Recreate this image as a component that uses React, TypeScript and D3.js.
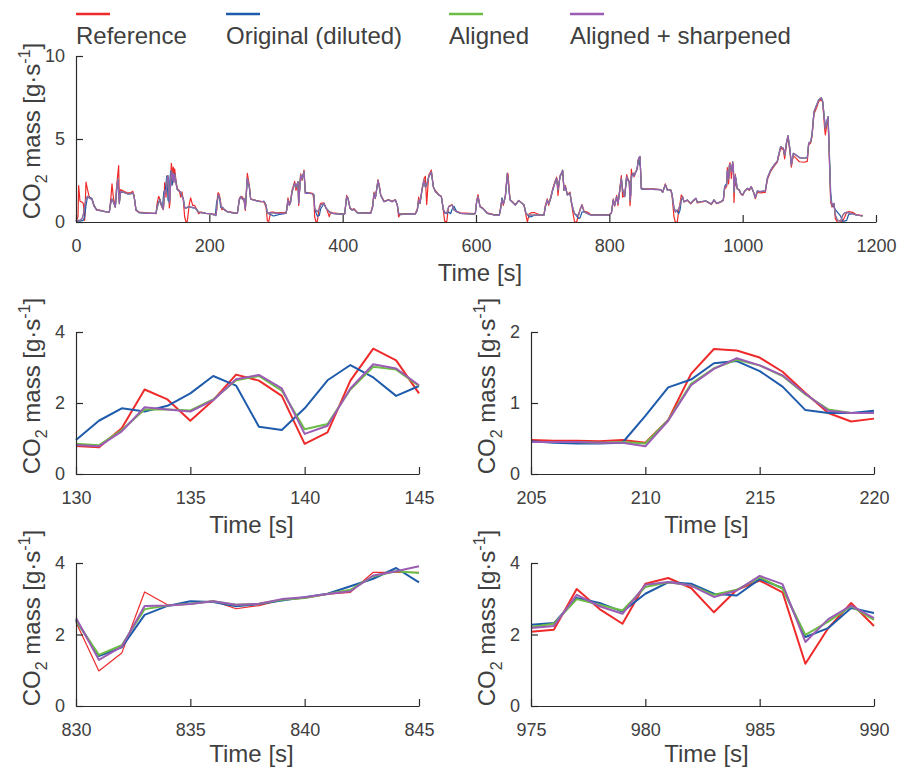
import { useEffect, useRef } from "react";
import * as d3 from "d3";

const seriesNames = ["Reference", "Original (diluted)", "Aligned", "Aligned + sharpened"];
const seriesColors = ["#ee2a2a", "#1f5bab", "#6cbd45", "#9b5cb4"];

// full drive, seconds
const topTime = [
  0, 3, 4, 6, 9, 11, 13, 15, 17, 20,
  24, 27, 31, 37, 44, 50, 52, 54, 56, 59,
  61, 63, 64, 65, 67, 72, 77, 82, 85, 87,
  90, 95, 107, 120, 122, 124, 126, 128, 130, 131,
  132, 133, 134, 135, 136, 137, 138, 139, 140, 141,
  142, 143, 144, 145, 146, 147, 148, 150, 152, 155,
  157, 159, 161, 163, 165, 167, 170, 172, 175, 178,
  181, 184, 188, 195, 200, 205, 206, 207, 208, 209,
  210, 211, 212, 213, 214, 215, 216, 217, 218, 219,
  220, 223, 227, 235, 242, 245, 247, 250, 252, 254,
  257, 260, 262, 270, 277, 282, 285, 287, 289, 292,
  296, 300, 305, 315, 316, 318, 320, 322, 324, 328,
  330, 333, 334, 337, 339, 342, 344, 350, 355, 357,
  358, 360, 362, 365, 367, 372, 375, 378, 380, 382,
  385, 395, 403, 406, 408, 411, 414, 417, 422, 442,
  445, 447, 449, 453, 455, 457, 462, 469, 474, 479,
  482, 484, 487, 495, 509, 512, 514, 516, 519, 522,
  524, 526, 529, 533, 536, 539, 544, 548, 551, 553,
  556, 559, 562, 564, 567, 571, 577, 597, 599, 601,
  603, 606, 610, 617, 627, 635, 637, 639, 641, 644,
  647, 648, 651, 654, 659, 664, 669, 672, 675, 677,
  680, 683, 688, 695, 702, 704, 707, 709, 712, 715,
  718, 721, 723, 726, 730, 732, 734, 737, 741, 743,
  746, 748, 751, 754, 756, 759, 762, 767, 772, 800,
  803, 806, 808, 811, 813, 816, 818, 820, 823, 826,
  828, 830, 831, 832, 833, 834, 835, 836, 837, 838,
  839, 840, 841, 842, 843, 844, 845, 846, 848, 855,
  865, 877, 880, 884, 887, 892, 894, 897, 899, 902,
  904, 906, 908, 910, 912, 917, 922, 927, 930, 932,
  937, 945, 953, 957, 961, 967, 971, 973, 975, 976,
  977, 978, 979, 980, 981, 982, 983, 984, 985, 986,
  987, 988, 989, 990, 992, 995, 997, 1000, 1003, 1007,
  1010, 1013, 1017, 1019, 1022, 1026, 1034, 1037, 1042, 1047,
  1052, 1054, 1057, 1061, 1063, 1066, 1068, 1071, 1073, 1076,
  1080, 1085, 1092, 1097, 1099, 1102, 1104, 1107, 1111, 1114,
  1118, 1120, 1123, 1124, 1128, 1129, 1132, 1134, 1137, 1139,
  1142, 1147, 1150, 1153, 1156, 1159, 1165, 1170, 1180,
];

const topReference = [
  0.05, 0.3, 2.2, 1.25, 1.2, 1.1, 0.1, 2.4, 2.0, 1.5,
  1.4, 1.0, 0.75, 0.7, 0.62, 0.6, 1.3, 2.3, 1.5, 0.9,
  2.2, 3.0, 3.4, 1.2, 1.95, 1.85, 1.75, 1.75, 1.85, 1.6,
  0.7, 0.6, 0.55, 0.5, 1.2, 1.55, 1.35, 1.0, 0.79, 0.75,
  1.29, 2.38, 2.1, 1.5, 2.08, 2.8, 2.63, 2.2, 0.85, 1.17,
  2.63, 3.53, 3.2, 2.27, 3.3, 2.6, 3.2, 2.5, 2.0, 1.9,
  1.5, 1.8, 1.3, 0.3, 0.0, 0.05, 1.1, 1.45, 1.0, 1.0,
  0.75, 0.5, 0.6, 0.52, 0.5, 0.48, 0.47, 0.47, 0.46, 0.48,
  0.44, 0.76, 1.41, 1.76, 1.74, 1.64, 1.44, 1.14, 0.86, 0.74,
  0.78, 0.75, 0.62, 0.58, 0.52, 1.4, 1.55, 1.5, 1.3, 0.7,
  2.93, 2.2, 1.4, 1.3, 1.25, 1.2, 0.9, 0.1, 0.0, 0.6,
  0.6, 0.55, 0.56, 0.56, 0.75, 1.45, 1.1, 1.3, 1.9, 2.45,
  1.9, 2.4, 1.0, 2.9, 2.5, 3.13, 1.75, 1.75, 1.72, 1.3,
  0.3, 0.0, 0.05, 0.9, 1.12, 1.15, 0.85, 0.55, 0.32, 0.6,
  0.55, 0.5, 0.5, 1.6, 1.45, 0.85, 0.75, 0.8, 0.58, 0.55,
  1.0, 1.8, 1.4, 2.55, 2.2, 1.65, 1.25, 1.35, 1.25, 1.35,
  1.0, 0.3, 0.5, 0.5, 0.52, 0.8, 1.5, 1.1, 2.0, 2.6,
  2.75, 1.05, 2.8, 3.13, 2.1, 1.9, 1.65, 1.55, 0.7, 0.05,
  0.0, 0.95, 1.0, 1.05, 0.75, 0.65, 0.55, 0.5, 0.55, 1.3,
  1.65, 0.95, 0.85, 0.55, 0.45, 0.45, 0.9, 1.4, 1.0, 1.6,
  2.95, 2.9, 1.35, 1.25, 1.05, 1.3, 1.15, 1.0, 0.4, 0.0,
  0.5, 0.56, 0.56, 0.45, 0.45, 1.0, 1.4, 1.0, 1.5, 2.0,
  2.4, 2.7, 1.6, 2.8, 3.05, 1.9, 2.2, 1.65, 1.8, 1.2,
  0.4, 0.0, 0.0, 0.5, 0.75, 1.05, 0.65, 0.6, 0.45, 0.45,
  0.55, 1.4, 0.95, 1.6, 1.0, 2.1, 2.8, 1.5, 1.6, 2.85,
  2.6, 2.34, 0.98, 1.48, 3.19, 2.83, 2.85, 2.94, 2.72, 2.81,
  2.97, 3.02, 3.13, 3.18, 3.74, 3.74, 3.74, 3.9, 2.0, 2.0,
  2.0, 1.95, 1.8, 2.3, 1.95, 1.95, 1.6, 0.3, 0.0, 0.0,
  0.7, 1.1, 1.63, 1.5, 1.2, 1.3, 1.1, 1.3, 1.4, 1.15,
  1.2, 1.25, 1.05, 1.3, 1.1, 1.2, 1.3, 2.0, 2.08, 2.13,
  3.27, 2.71, 2.3, 3.42, 3.58, 3.3, 2.62, 3.25, 3.51, 3.18,
  1.18, 2.18, 2.88, 2.24, 2.0, 1.9, 1.7, 1.6, 1.85, 2.0,
  1.9, 2.1, 1.7, 1.4, 1.8, 1.75, 1.78, 2.55, 3.05, 3.35,
  3.6, 3.95, 4.45, 4.35, 3.8, 4.75, 5.1, 4.2, 3.3, 4.0,
  3.85, 3.63, 3.6, 3.65, 4.65, 4.75, 5.15, 6.5, 6.9, 7.25,
  7.4, 7.2, 5.6, 5.24, 6.3, 5.1, 1.2, 0.9, 1.1, 0.2,
  0.0, 0.0, 0.05, 0.3, 0.58, 0.62, 0.58, 0.45, 0.38,
];

const topOriginal = [
  0.05, 0.05, 0.05, 0.05, 0.08, 0.1, 0.3, 1.0, 1.45, 1.5,
  1.4, 1.0, 0.72, 0.68, 0.62, 0.6, 1.2, 1.4, 1.25, 0.9,
  1.9, 2.5, 2.0, 1.2, 1.8, 1.78, 1.7, 1.7, 1.75, 1.6,
  0.75, 0.56, 0.52, 0.52, 1.0, 1.2, 1.35, 1.0, 0.96, 1.5,
  1.85, 1.76, 1.92, 2.27, 2.76, 2.49, 1.33, 1.24, 1.85, 2.64,
  3.07, 2.72, 2.2, 2.48, 2.8, 2.5, 2.9, 2.4, 1.95, 1.85,
  1.8, 1.55, 1.4, 0.9, 0.85, 0.88, 0.9, 0.9, 0.85, 0.85,
  0.75, 0.6, 0.56, 0.52, 0.5, 0.46, 0.44, 0.43, 0.43, 0.44,
  0.82, 1.22, 1.33, 1.56, 1.59, 1.45, 1.23, 0.9, 0.86, 0.86,
  0.89, 0.72, 0.62, 0.55, 0.52, 1.35, 1.5, 1.4, 1.4, 0.8,
  2.6, 2.1, 1.37, 1.29, 1.22, 1.25, 1.02, 0.55, 0.5, 0.45,
  0.36, 0.4, 0.45, 0.52, 0.72, 1.3, 1.0, 1.2, 1.8, 2.3,
  2.1, 2.4, 1.2, 2.8, 2.6, 3.0, 1.8, 1.73, 1.7, 1.63,
  0.82, 0.55, 0.35, 0.4, 0.8, 1.1, 0.85, 0.7, 0.62, 0.55,
  0.52, 0.48, 0.48, 1.5, 1.43, 0.82, 0.72, 0.76, 0.55, 0.52,
  0.9, 1.7, 1.45, 2.45, 2.1, 1.6, 1.22, 1.33, 1.22, 1.33,
  1.02, 0.5, 0.45, 0.48, 0.48, 0.7, 1.3, 1.15, 1.9, 2.5,
  2.1, 2.2, 2.7, 3.0, 2.13, 1.83, 1.63, 1.53, 0.76, 0.55,
  0.5, 0.6, 0.5, 0.75, 0.95, 0.62, 0.52, 0.48, 0.5, 1.2,
  1.5, 0.92, 0.82, 0.52, 0.42, 0.42, 0.8, 1.45, 1.1, 1.5,
  2.8, 2.5, 1.33, 1.22, 1.02, 1.29, 1.12, 1.02, 0.52, 0.45,
  0.3, 0.32, 0.42, 0.42, 0.42, 0.9, 1.3, 1.1, 1.4, 1.9,
  2.3, 2.6, 1.93, 2.7, 3.1, 1.93, 2.13, 1.63, 1.73, 1.22,
  0.72, 0.5, 0.35, 0.22, 0.25, 0.6, 0.62, 0.52, 0.42, 0.42,
  0.52, 1.3, 1.02, 1.5, 1.12, 2.0, 2.6, 1.93, 1.53, 2.7,
  2.5, 2.41, 1.4, 1.64, 2.55, 2.8, 2.93, 2.91, 2.79, 2.85,
  2.95, 3.04, 3.14, 3.35, 3.56, 3.86, 3.46, 3.9, 2.0, 1.97,
  1.97, 1.95, 1.79, 2.25, 1.93, 1.93, 1.7, 0.82, 0.7, 0.65,
  0.5, 0.7, 1.3, 1.5, 1.22, 1.33, 1.12, 1.33, 1.43, 1.18,
  1.22, 1.27, 1.08, 1.33, 1.12, 1.22, 1.33, 2.15, 2.27, 2.32,
  3.02, 2.88, 2.64, 3.14, 3.46, 3.42, 3.14, 3.09, 3.55, 3.3,
  1.93, 2.18, 2.74, 2.6, 2.0, 1.93, 1.73, 1.63, 1.87, 2.03,
  1.95, 2.13, 1.73, 1.47, 1.87, 1.83, 1.87, 2.63, 3.13, 3.43,
  3.67, 4.04, 4.54, 4.44, 4.04, 4.84, 5.2, 4.34, 3.5, 4.14,
  4.04, 3.88, 3.84, 3.88, 4.74, 4.84, 5.24, 6.65, 7.05, 7.35,
  7.45, 7.3, 6.1, 5.7, 6.35, 5.5, 1.8, 1.0, 0.9, 0.75,
  0.6, 0.35, 0.05, 0.05, 0.1, 0.45, 0.5, 0.42, 0.36,
];

const topAligned = [
  0.05, 0.08, 0.1, 0.12, 0.2, 0.45, 1.0, 1.35, 1.55, 1.45,
  1.35, 0.95, 0.72, 0.68, 0.62, 0.6, 1.1, 1.35, 1.2, 0.88,
  2.1, 2.6, 1.6, 1.1, 1.85, 1.78, 1.7, 1.7, 1.75, 1.58,
  0.72, 0.56, 0.52, 0.52, 0.9, 1.15, 1.3, 1.1, 0.82, 0.78,
  1.2, 1.88, 1.82, 1.76, 2.08, 2.67, 2.79, 2.41, 1.13, 1.36,
  2.41, 3.09, 2.97, 2.5, 2.9, 2.4, 2.85, 2.3, 1.95, 1.85,
  1.82, 1.55, 1.4, 0.85, 0.82, 0.9, 0.92, 0.9, 0.88, 0.85,
  0.75, 0.6, 0.56, 0.52, 0.5, 0.45, 0.45, 0.45, 0.44, 0.44,
  0.39, 0.75, 1.25, 1.48, 1.63, 1.53, 1.39, 1.13, 0.89, 0.86,
  0.86, 0.72, 0.62, 0.55, 0.52, 1.33, 1.53, 1.35, 1.42, 0.8,
  2.63, 2.1, 1.37, 1.29, 1.22, 1.25, 1.02, 0.52, 0.55, 0.56,
  0.55, 0.52, 0.52, 0.52, 0.72, 1.33, 1.0, 1.22, 1.83, 2.33,
  2.1, 2.43, 1.12, 2.83, 2.6, 3.03, 1.73, 1.73, 1.7, 1.63,
  0.82, 0.7, 0.62, 0.8, 1.02, 1.12, 0.82, 0.7, 0.62, 0.55,
  0.52, 0.48, 0.48, 1.53, 1.43, 0.82, 0.72, 0.76, 0.55, 0.52,
  0.92, 1.73, 1.45, 2.49, 2.13, 1.63, 1.22, 1.33, 1.22, 1.33,
  1.02, 0.52, 0.48, 0.48, 0.48, 0.72, 1.33, 1.15, 1.93, 2.53,
  2.13, 2.2, 2.73, 3.03, 2.13, 1.83, 1.63, 1.53, 0.76, 0.6,
  0.52, 0.92, 0.98, 1.02, 0.72, 0.62, 0.52, 0.48, 0.5, 1.22,
  1.53, 0.92, 0.82, 0.52, 0.42, 0.42, 0.82, 1.33, 1.1, 1.53,
  2.93, 2.6, 1.33, 1.22, 1.02, 1.29, 1.12, 1.02, 0.52, 0.45,
  0.42, 0.42, 0.42, 0.42, 0.42, 0.92, 1.33, 1.1, 1.43, 1.93,
  2.33, 2.63, 1.93, 2.73, 3.13, 1.93, 2.13, 1.63, 1.73, 1.22,
  0.72, 0.5, 0.42, 0.42, 0.72, 1.02, 0.62, 0.52, 0.42, 0.42,
  0.52, 1.33, 1.02, 1.53, 1.12, 2.03, 2.63, 1.93, 1.53, 2.73,
  2.53, 2.46, 1.29, 1.66, 2.8, 2.81, 2.85, 2.93, 2.83, 2.86,
  2.99, 3.04, 3.13, 3.21, 3.65, 3.77, 3.91, 3.95, 2.05, 1.97,
  1.97, 1.95, 1.79, 2.25, 1.93, 1.93, 1.7, 0.82, 0.6, 0.72,
  0.75, 1.0, 1.35, 1.5, 1.22, 1.33, 1.12, 1.33, 1.43, 1.18,
  1.22, 1.27, 1.08, 1.33, 1.12, 1.22, 1.33, 2.1, 2.18, 2.24,
  3.11, 2.79, 2.58, 3.39, 3.47, 3.37, 3.05, 3.23, 3.64, 3.41,
  1.79, 2.43, 2.81, 2.46, 2.0, 1.93, 1.73, 1.63, 1.87, 2.03,
  1.95, 2.13, 1.73, 1.47, 1.87, 1.83, 1.87, 2.63, 3.13, 3.43,
  3.67, 4.04, 4.54, 4.44, 4.04, 4.84, 5.2, 4.34, 3.43, 4.14,
  4.04, 3.88, 3.84, 3.88, 4.74, 4.84, 5.24, 6.65, 7.05, 7.35,
  7.49, 7.25, 6.04, 5.64, 6.35, 5.24, 1.43, 1.02, 1.12, 0.42,
  0.12, 0.06, 0.4, 0.55, 0.58, 0.55, 0.5, 0.42, 0.36,
];

// zoomed windows, one sample per second
const timeA = [130, 131, 132, 133, 134, 135, 136, 137, 138, 139, 140, 141, 142, 143, 144, 145];
const refA = [0.79, 0.75, 1.29, 2.38, 2.1, 1.5, 2.08, 2.8, 2.63, 2.2, 0.85, 1.17, 2.63, 3.53, 3.2, 2.27];
const origA = [0.96, 1.5, 1.85, 1.76, 1.92, 2.27, 2.76, 2.49, 1.33, 1.24, 1.85, 2.64, 3.07, 2.72, 2.2, 2.48];
const alignA = [0.85, 0.81, 1.24, 1.82, 1.82, 1.79, 2.1, 2.64, 2.76, 2.35, 1.26, 1.41, 2.38, 3.02, 2.94, 2.48];
const sharpA = [0.82, 0.78, 1.2, 1.88, 1.82, 1.76, 2.08, 2.67, 2.79, 2.41, 1.13, 1.36, 2.41, 3.09, 2.97, 2.5];

const timeB = [205, 206, 207, 208, 209, 210, 211, 212, 213, 214, 215, 216, 217, 218, 219, 220];
const refB = [0.48, 0.47, 0.47, 0.46, 0.48, 0.44, 0.76, 1.41, 1.76, 1.74, 1.64, 1.44, 1.14, 0.86, 0.74, 0.78];
const origB = [0.46, 0.44, 0.43, 0.43, 0.44, 0.82, 1.22, 1.33, 1.56, 1.59, 1.45, 1.23, 0.9, 0.86, 0.86, 0.89];
const alignB = [0.45, 0.45, 0.45, 0.44, 0.45, 0.43, 0.76, 1.27, 1.49, 1.61, 1.53, 1.38, 1.12, 0.91, 0.86, 0.86];
const sharpB = [0.45, 0.45, 0.45, 0.44, 0.44, 0.39, 0.75, 1.25, 1.48, 1.63, 1.53, 1.39, 1.13, 0.89, 0.86, 0.86];

const timeC = [830, 831, 832, 833, 834, 835, 836, 837, 838, 839, 840, 841, 842, 843, 844, 845];
const refC = [2.34, 0.98, 1.48, 3.19, 2.83, 2.85, 2.94, 2.72, 2.81, 2.97, 3.02, 3.13, 3.18, 3.74, 3.74, 3.74];
const origC = [2.41, 1.4, 1.64, 2.55, 2.8, 2.93, 2.91, 2.79, 2.85, 2.95, 3.04, 3.14, 3.35, 3.56, 3.86, 3.46];
const alignC = [2.38, 1.43, 1.7, 2.71, 2.81, 2.86, 2.93, 2.83, 2.86, 2.97, 3.02, 3.13, 3.25, 3.63, 3.77, 3.72];
const sharpC = [2.46, 1.29, 1.66, 2.8, 2.81, 2.85, 2.93, 2.83, 2.86, 2.99, 3.04, 3.13, 3.21, 3.65, 3.77, 3.91];

const timeD = [975, 976, 977, 978, 979, 980, 981, 982, 983, 984, 985, 986, 987, 988, 989, 990];
const refD = [2.08, 2.13, 3.27, 2.71, 2.3, 3.42, 3.58, 3.3, 2.62, 3.25, 3.51, 3.18, 1.18, 2.18, 2.88, 2.24];
const origD = [2.27, 2.32, 3.02, 2.88, 2.64, 3.14, 3.46, 3.42, 3.14, 3.09, 3.55, 3.3, 1.93, 2.18, 2.74, 2.6];
const alignD = [2.21, 2.3, 2.99, 2.83, 2.67, 3.33, 3.46, 3.37, 3.11, 3.25, 3.6, 3.28, 1.99, 2.36, 2.79, 2.41];
const sharpD = [2.18, 2.24, 3.11, 2.79, 2.58, 3.39, 3.47, 3.37, 3.05, 3.23, 3.64, 3.41, 1.79, 2.43, 2.81, 2.46];

const FONT = "'Liberation Sans', Arial, sans-serif";
const TEXT = "#404040";
const AXIS = "#2a2a2a";

const panels = [
  {
    left: 76, right: 876, top: 56, bottom: 222,
    xDomain: [0, 1200], yDomain: [0, 10],
    xTicks: [0, 200, 400, 600, 800, 1000, 1200], yTicks: [0, 5, 10],
    time: topTime, series: [topReference, topOriginal, topAligned, topAligned],
    widths: [1.2, 1.2, 1.2, 1.2],
    xLabelY: 281, yLabelX: 40, yLabelY: 131,
  },
  {
    left: 76, right: 419, top: 332, bottom: 474,
    xDomain: [130, 145], yDomain: [0, 4],
    xTicks: [130, 135, 140, 145], yTicks: [0, 2, 4],
    time: timeA, series: [refA, origA, alignA, sharpA],
    widths: [2, 2, 2, 2],
    xLabelY: 533, yLabelX: 40, yLabelY: 386,
  },
  {
    left: 531, right: 874, top: 332, bottom: 474,
    xDomain: [205, 220], yDomain: [0, 2],
    xTicks: [205, 210, 215, 220], yTicks: [0, 1, 2],
    time: timeB, series: [refB, origB, alignB, sharpB],
    widths: [2, 2, 2, 2],
    xLabelY: 533, yLabelX: 495, yLabelY: 386,
  },
  {
    left: 76, right: 419, top: 563, bottom: 706,
    xDomain: [830, 845], yDomain: [0, 4],
    xTicks: [830, 835, 840, 845], yTicks: [0, 2, 4],
    time: timeC, series: [refC, origC, alignC, sharpC],
    widths: [1.2, 2, 2, 2],
    xLabelY: 762, yLabelX: 40, yLabelY: 618,
  },
  {
    left: 531, right: 874, top: 563, bottom: 706,
    xDomain: [975, 990], yDomain: [0, 4],
    xTicks: [975, 980, 985, 990], yTicks: [0, 2, 4],
    time: timeD, series: [refD, origD, alignD, sharpD],
    widths: [2, 2, 2, 2],
    xLabelY: 762, yLabelX: 495, yLabelY: 618,
  },
];

const plain = (d: any) => String(d);

function drawPanel(svg: any, p: any) {
  const x = d3.scaleLinear().domain(p.xDomain).range([p.left, p.right]);
  const y = d3.scaleLinear().domain(p.yDomain).range([p.bottom, p.top]);
  const g = svg.append("g");

  // lines first, axes over them
  p.series.forEach((vals: number[], k: number) => {
    const line = d3
      .line<number>()
      .x((_, i) => x(p.time[i]))
      .y((d) => y(d));
    g.append("path")
      .attr("d", line(vals))
      .attr("fill", "none")
      .attr("stroke", seriesColors[k])
      .attr("stroke-width", p.widths[k])
      .attr("stroke-linejoin", "round");
  });

  const xAxis = g
    .append("g")
    .attr("transform", `translate(0,${p.bottom})`)
    .call(
      d3.axisBottom(x).tickValues(p.xTicks).tickFormat(plain)
        .tickSizeInner(-7).tickSizeOuter(0).tickPadding(17)
    );
  const yAxis = g
    .append("g")
    .attr("transform", `translate(${p.left},0)`)
    .call(
      d3.axisLeft(y).tickValues(p.yTicks).tickFormat(plain)
        .tickSizeInner(-7).tickSizeOuter(0).tickPadding(11)
    );

  [xAxis, yAxis].forEach((a) => {
    a.select(".domain").attr("stroke", AXIS).attr("stroke-width", 1.2);
    a.selectAll(".tick line").attr("stroke", AXIS).attr("stroke-width", 1.2);
    a.selectAll(".tick text")
      .attr("fill", TEXT)
      .style("font-family", FONT)
      .style("font-size", "18px");
  });

  g.append("text")
    .attr("x", (p.left + p.right) / 2 + 4)
    .attr("y", p.xLabelY)
    .attr("text-anchor", "middle")
    .attr("fill", TEXT)
    .style("font-family", FONT)
    .style("font-size", "24px")
    .text("Time [s]");

  const yl = g
    .append("text")
    .attr("transform", `translate(${p.yLabelX},${p.yLabelY}) rotate(-90)`)
    .attr("text-anchor", "middle")
    .attr("fill", TEXT)
    .style("font-family", FONT)
    .style("font-size", "24px");
  yl.append("tspan").text("CO");
  yl.append("tspan").attr("font-size", "16px").attr("dy", 7).text("2");
  yl.append("tspan").attr("dy", -7).text(" mass [g·s");
  yl.append("tspan").attr("font-size", "16px").attr("dy", -10).text("-1");
  yl.append("tspan").attr("dy", 10).text("]");
}

const legendX = [76, 226, 449, 570];

function drawLegend(svg: any) {
  seriesNames.forEach((name, k) => {
    svg.append("line")
      .attr("x1", legendX[k]).attr("x2", legendX[k] + 34)
      .attr("y1", 14).attr("y2", 14)
      .attr("stroke", seriesColors[k])
      .attr("stroke-width", 2.5);
    svg.append("text")
      .attr("x", legendX[k])
      .attr("y", 44)
      .attr("fill", TEXT)
      .style("font-family", FONT)
      .style("font-size", "24px")
      .text(name);
  });
}

export default function App() {
  const svgRef = useRef<SVGSVGElement>(null);

  useEffect(() => {
    const svg = d3.select(svgRef.current);
    svg.selectAll("*").remove();
    panels.forEach((p) => drawPanel(svg, p));
    drawLegend(svg);
  }, []);

  return (
    <svg
      ref={svgRef}
      width={897}
      height={772}
      style={{ position: "absolute", left: 0, top: 0, background: "#fff" }}
    />
  );
}
